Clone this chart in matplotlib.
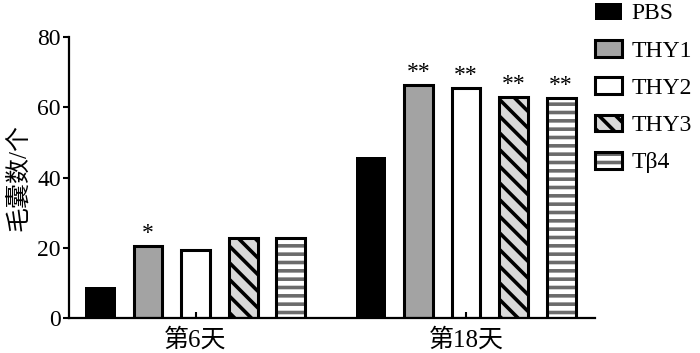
import matplotlib
matplotlib.use("Agg")
import matplotlib.pyplot as plt
from matplotlib.patches import Patch
from matplotlib.legend_handler import HandlerTuple
import numpy as np

plt.rcParams['font.family'] = ['Liberation Serif', 'Noto Sans CJK SC', 'DejaVu Sans']
plt.rcParams['hatch.linewidth'] = 2.6

categories = ['第6天', '第18天']
series = ['PBS', 'THY1', 'THY2', 'THY3', 'Tβ4']
values = {
    'PBS':  [8.8, 45.9],
    'THY1': [20.4, 66.3],
    'THY2': [19.3, 65.4],
    'THY3': [22.7, 62.8],
    'Tβ4':  [22.7, 62.6],
}
marks = {
    'PBS':  ['', ''],
    'THY1': ['*', '**'],
    'THY2': ['', '**'],
    'THY3': ['', '**'],
    'Tβ4':  ['', '**'],
}
yticks = [0, 20, 40, 60, 80]
ylabel = '毛囊数/个'

# style: (facecolor, hatch, hatchcolor, has_edge)
styles = {
    'PBS':  ('black', None, None, False),
    'THY1': ('#a3a3a3', None, None, True),
    'THY2': ('white', None, None, True),
    'THY3': ('#d9d9d9', '\\\\', 'black', True),
    'Tβ4':  ('white', '--', '#6b6b6b', True),
}

fig = plt.figure(figsize=(7.0, 3.53), dpi=100)
ax = fig.add_axes([0.0986, 0.0992, 0.7514, 0.7958])

x = np.arange(len(categories))
step = 0.176
width = 0.106
edge_lw = 2.2

handles = []
for i, s in enumerate(series):
    fc, hatch, hc, has_edge = styles[s]
    pos = x + (i - 2) * step
    if hatch:
        ax.bar(pos, values[s], width, color=fc, edgecolor=hc, hatch=hatch, linewidth=0)
        ax.bar(pos, values[s], width, fill=False, edgecolor='black', linewidth=edge_lw)
        h = (Patch(facecolor=fc, edgecolor=hc, hatch=hatch, linewidth=0),
             Patch(fill=False, edgecolor='black', linewidth=edge_lw))
    elif has_edge:
        ax.bar(pos, values[s], width, color=fc, edgecolor='black', linewidth=edge_lw)
        h = Patch(facecolor=fc, edgecolor='black', linewidth=edge_lw)
    else:
        ax.bar(pos, values[s], width + 0.006, color=fc, linewidth=0)
        h = Patch(facecolor=fc, linewidth=0)
    handles.append(h)
    for xi, v, m in zip(pos, values[s], marks[s]):
        if m:
            ax.text(xi, v + 0.6, m, ha='center', va='bottom', fontsize=17,
                    color='black')

ax.set_xlim(-0.468, 1.477)
ax.set_ylim(0, 80)
ax.set_yticks(yticks)
ax.set_xticks(x)
ax.set_xticklabels(categories, fontsize=18)
ax.tick_params(axis='y', labelsize=17, direction='out', length=4, width=1.5, pad=2)
ax.tick_params(axis='x', direction='in', length=4, width=1.5, pad=7)
for sp in ['top', 'right']:
    ax.spines[sp].set_visible(False)
for sp in ['left', 'bottom']:
    ax.spines[sp].set_linewidth(1.6)
ax.set_ylabel(ylabel, fontsize=18, labelpad=5)

leg = ax.legend(handles, series, loc='upper left', bbox_to_anchor=(1.0, 1.122),
                frameon=False, fontsize=17, handler_map={tuple: HandlerTuple(ndivide=1)},
                handlelength=1.14, handleheight=0.72, labelspacing=0.66, handletextpad=0.42,
                borderaxespad=0, borderpad=0)

fig.savefig('out.png', dpi=100)
